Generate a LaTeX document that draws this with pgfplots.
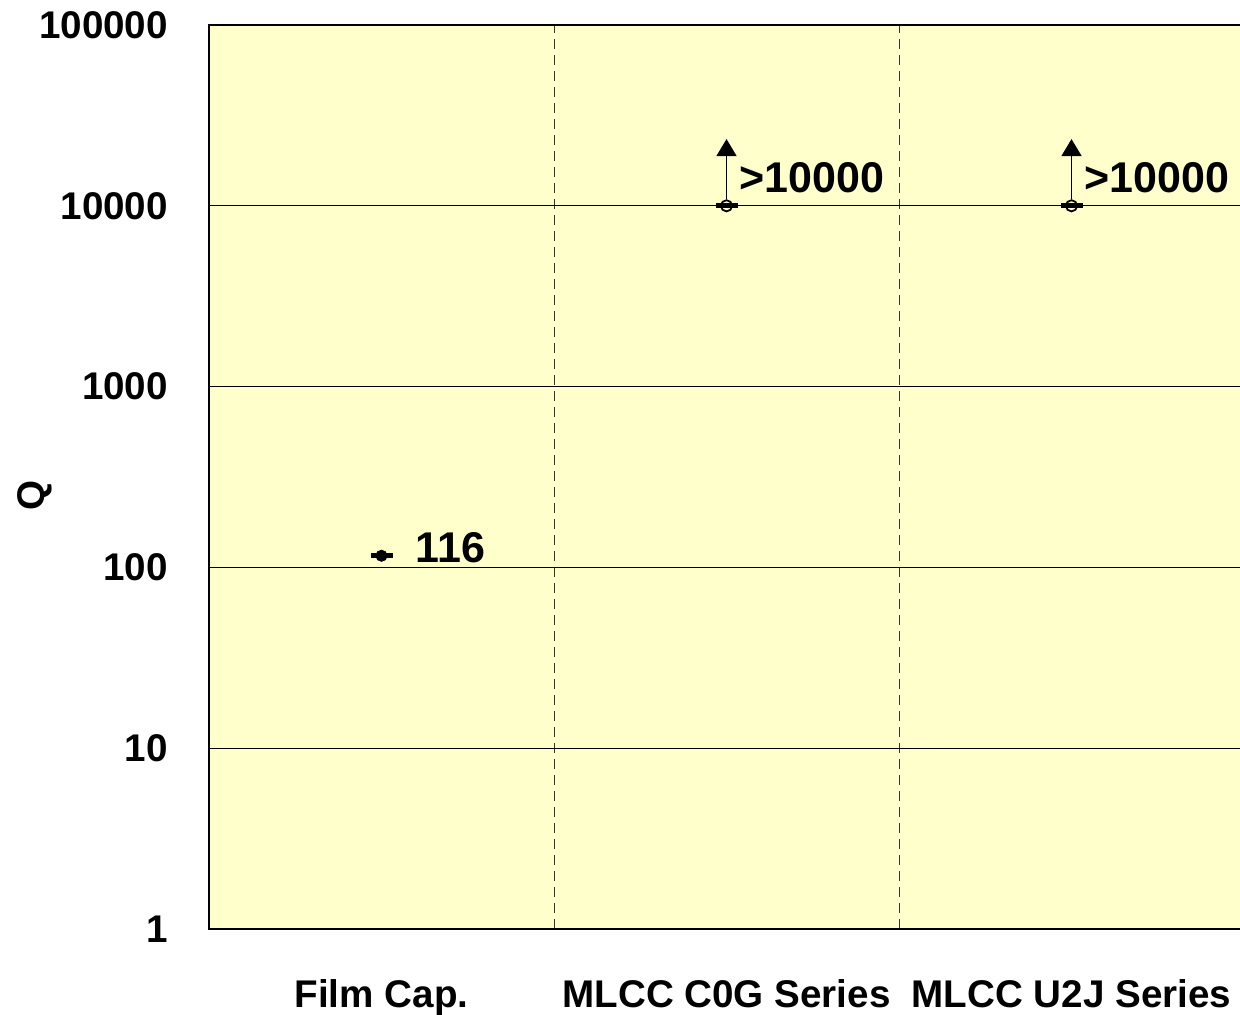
\documentclass[border=0pt]{standalone}
\usepackage{fontspec}
\setmainfont{Liberation Sans}
\usepackage{pgfplots}
\pgfplotsset{compat=1.18}
\usetikzlibrary{arrows.meta}
\definecolor{plotbg}{RGB}{255,255,204}

\begin{document}
\begin{tikzpicture}
\begin{axis}[
  at={(104.5pt,42.5pt)}, anchor=south west,
  scale only axis, width=517.5pt, height=452pt,
  ymode=log, ymin=1, ymax=100000,
  ytick={1,10,100,1000,10000,100000},
  yticklabels={1,10,100,1000,10000,100000},
  xmin=-0.5, xmax=2.5,
  xtick={0,1,2},
  xticklabels={Film Cap., MLCC C0G Series, MLCC U2J Series},
  minor xtick={0.5,1.5},
  xminorgrids, ymajorgrids,
  minor grid style={black!80, dash pattern=on 5pt off 3pt, line width=0.4pt},
  major grid style={black, line width=0.5pt},
  major tick length=0pt, minor tick length=0pt,
  log basis y=10,
  axis background/.style={fill=plotbg},
  axis line style={black, line width=1.4pt},
  tick label style={font=\bfseries\fontsize{19.3}{22}\selectfont},
  /pgf/number format/assume math mode=true,
  yticklabel style={xshift=-17pt},
  xticklabel style={yshift=-21.5pt},
  clip=false,
]
% bar + circle markers
\addplot[only marks, mark=-, mark size=5.5pt, line width=2.5pt] coordinates {(0,116)(1,10000)(2,10000)};
\addplot[only marks, mark=*, mark size=2.8pt, fill=black] coordinates {(0,116)};
\addplot[only marks, mark=o, mark size=2.8pt, line width=0.9pt, mark options={fill=plotbg}] coordinates {(1,10000)(2,10000)};
% arrows for lower bounds
\addplot[line width=0.7pt, -{Triangle[length=8.5pt,width=10pt]}] coordinates {(1,10900)(1,23400)};
\addplot[line width=0.7pt, -{Triangle[length=8.5pt,width=10pt]}] coordinates {(2,10900)(2,23400)};
\node[anchor=west, font=\bfseries\fontsize{21.5}{24}\selectfont, xshift=13.5pt, yshift=4pt] at (axis cs:0,116) {116};
\node[anchor=west, font=\bfseries\fontsize{21.5}{24}\selectfont, xshift=3pt, yshift=14pt] at (axis cs:1,10000) {>10000};
\node[anchor=west, font=\bfseries\fontsize{21.5}{24}\selectfont, xshift=3pt, yshift=14pt] at (axis cs:2,10000) {>10000};
\node[rotate=90, font=\bfseries\fontsize{19.3}{22}\selectfont, xshift=-9pt, yshift=87pt] at (axis description cs:0,0.5) {Q};
\end{axis}
\pgfresetboundingbox
\path[use as bounding box] (0,0) rectangle (620pt,507pt);
\end{tikzpicture}
\end{document}
